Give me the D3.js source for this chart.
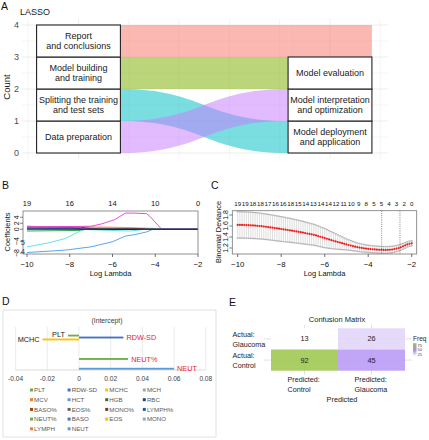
<!DOCTYPE html>
<html><head><meta charset="utf-8">
<script src="https://cdn.jsdelivr.net/npm/d3@7"></script>
<style>body{margin:0;background:#fff}svg{display:block}text{font-family:"Liberation Sans",Arial,sans-serif}</style>
</head><body><svg id="c" width="429" height="440"></svg>
<script>
// ================= DATA =================
// Panel A (alluvial)
const leftSteps = ["Data preparation", "Splitting the training\nand test sets", "Model building\nand training", "Report\nand conclusions"];
const rightSteps = ["Model deployment\nand application", "Model interpretation\nand optimization", "Model evaluation", ""];
const flowFrom = [3, 2, 1, 0];
const flowTo = [3, 2, 0, 1];
const flowCount = [1, 1, 1, 1];
const countTicks = [0, 1, 2, 3, 4];

// Panel B (coefficient paths)
const coefPathLambda = [
  [-10, -8, -7.5, -7, -6.5, -2],                        // navy
  [-10, -8, -7.4, -2],                                   // purple
  [-10, -7.5, -6, -4, -3.6, -2],                         // salmon
  [-10, -7, -5, -3.8, -2],                               // red
  [-10, -8, -6.8, -2],                                   // dark blue
  [-10, -7.5, -7.2, -2],                                 // green
  [-10, -9, -8.2, -7.6, -7.35, -6.5, -5.2, -4.4, -2],    // cyan
  [-10, -8.2, -7, -6, -5.4, -4.95, -4.4, -4.1, -2],      // blue
  [-10, -8, -7, -6.5, -5.9, -5.4, -5.0, -4.4, -4.25, -3.7, -2], // magenta
  [-10, -2]                                              // black
];
const coefPathValue = [
  [0.8, 0.75, 0.7, 0.2, 0, 0],
  [1.0, 0.6, 0, 0],
  [0.8, 0.9, 0.7, 0.3, 0, 0],
  [0.5, 0.4, 0.3, 0, 0],
  [0.3, 0.2, 0, 0],
  [-0.6, -0.4, 0, 0],
  [-5.9, -4.6, -3.1, -0.9, -0.1, -0.3, -0.6, 0, 0],
  [-7.8, -7.0, -5.9, -4.2, -2.3, -1.8, -0.9, 0, 0],
  [0.8, 0.9, 1.0, 1.8, 3.2, 5.4, 5.4, 5.2, 4.3, 0, 0],
  [0, 0]
];
const coefPathLabels = [null, null, null, null, null, null, "5", "4", null, null];
const coefYTicks = [-8, -4, 0, 2, 4];
const lambdaTicks = [-10, -8, -6, -4, -2];
const coefTopLambda = [-10, -8, -6, -4, -2];
const coefTopLabels = ["19", "16", "14", "10", "0"];

// Panel C (cross-validation)
const cvLambda = [-10.0,-9.9,-9.8,-9.7,-9.6,-9.5,-9.4,-9.3,-9.2,-9.1,-9.0,-8.9,-8.8,-8.7,-8.6,-8.5,-8.4,-8.3,-8.2,-8.1,
  -8.0,-7.9,-7.8,-7.7,-7.6,-7.5,-7.4,-7.3,-7.2,-7.1,-7.0,-6.9,-6.8,-6.7,-6.6,-6.5,-6.4,-6.3,-6.2,-6.1,
  -6.0,-5.9,-5.8,-5.7,-5.6,-5.5,-5.4,-5.3,-5.2,-5.1,-5.0,-4.9,-4.8,-4.7,-4.6,-4.5,-4.4,-4.3,-4.2,-4.1,
  -4.0,-3.9,-3.8,-3.7,-3.6,-3.5,-3.4,-3.3,-3.2,-3.1,-3.0,-2.9,-2.8,-2.7,-2.6,-2.5,-2.4,-2.3,-2.2,-2.1,-2.0];
const cvMean = [1.620,1.620,1.619,1.618,1.617,1.615,1.613,1.610,1.607,1.604,1.600,1.596,1.591,1.586,1.581,1.575,1.569,1.563,1.557,1.551,
  1.545,1.539,1.533,1.527,1.521,1.515,1.508,1.501,1.494,1.487,1.480,1.472,1.464,1.456,1.448,1.440,1.429,1.417,1.405,1.392,
  1.380,1.368,1.356,1.344,1.332,1.320,1.309,1.298,1.287,1.276,1.265,1.255,1.245,1.235,1.225,1.215,1.208,1.201,1.195,1.190,
  1.185,1.181,1.177,1.174,1.171,1.168,1.166,1.165,1.165,1.166,1.168,1.173,1.180,1.189,1.200,1.214,1.230,1.248,1.265,1.277,1.285];
const cvSE = [.240,.240,.239,.239,.238,.238,.237,.237,.236,.236,.235,.234,.233,.232,.231,.230,.229,.228,.227,.226,
  .225,.223,.221,.219,.217,.215,.213,.211,.209,.207,.205,.202,.199,.196,.193,.190,.187,.184,.181,.178,
  .175,.168,.161,.154,.147,.140,.132,.124,.116,.108,.100,.095,.090,.085,.080,.075,.073,.071,.069,.067,
  .065,.065,.064,.064,.063,.063,.062,.062,.061,.061,.060,.059,.058,.057,.056,.055,.053,.051,.049,.047,.045];
const cvTopLabels = ["19","19","18","18","17","16","16","18","15","14","13","14","14","12","11","10","9","8","5","5","4","3","2","0"];
const cvYTicks = [1.2, 1.4, 1.6, 1.8];
const cvLambdaMin = -3.38;
const cvLambda1se = -2.54;

// Panel D (coefficients bar chart)
const featureNames = ["PLT","RDW-SD","MCHC","MCH","MCV","HCT","HGB","RBC","BASO%","EOS%","MONO%","LYMPH%","NEUT%","BASO","EOS","MONO","LYMPH","NEUT"];
const featureCoef = [-0.007, 0.028, -0.023, 0, 0, 0, 0, 0, 0, 0, 0, 0, 0.031, 0, 0, 0, 0, 0.060];
const coefAxisTicks = [-0.04, -0.02, 0, 0.02, 0.04, 0.06, 0.08];
const coefAxisLabels = ["-0.04", "-0.02", "0", "0.02", "0.04", "0.06", "0.08"];
const coefCategory = "(Intercept)";

// Panel E (confusion matrix)
const cmPredicted = ["Control", "Control", "Glaucoma", "Glaucoma"];
const cmActual = ["Glaucoma", "Control", "Glaucoma", "Control"];
const cmFreq = [13, 92, 26, 45];
const cmPredLevels = ["Control", "Glaucoma"];
const cmActLevels = ["Glaucoma", "Control"];
const freqTicks = [25, 50, 75];

// ================= STYLES =================
const flowColors = ["#F8766D", "#7CAE00", "#00BFC4", "#C77CFF"];
const coefColors = ["#1a2a8a", "#8a3fd8", "#f2a090", "#e0202a", "#2450c8", "#1fa030", "#4fe0e6", "#4c98e6", "#e23ccf", "#000000"];
const coefLabelDy = [0, 0, 0, 0, 0, 0, -2, 1, 0, 0];
const featureColors = ["#70AD47","#4472C4","#FFC000","#A5A5A5","#ED7D31","#5B9BD5","#43682B","#264478","#9E480E","#636363","#843C0C","#255E91","#70AD47","#4472C4","#FFC000","#A5A5A5","#ED7D31","#5B9BD5"];

const svg = d3.select("#c");

function mtext(g, x, y, str, size, lh, anchor, fill) {
  const lines = str.split("\n");
  const t = g.append("text").attr("x", x).attr("y", y).attr("font-size", size)
    .attr("text-anchor", anchor || "middle").attr("fill", fill || "#1a1a1a");
  const off = -(lines.length - 1) * lh / 2;
  lines.forEach((l, i) => t.append("tspan").attr("x", x).attr("y", y + off + i * lh).attr("dy", "0.35em").text(l));
  return t;
}

// panel letters
[["A", 1, 10], ["B", 2, 189], ["C", 211, 189], ["D", 2, 305], ["E", 229, 306]].forEach(([s, x, y]) =>
  svg.append("text").attr("x", x).attr("y", y).attr("font-size", 10.5).attr("fill", "#111").text(s));

// ================= PANEL A =================
{
  const g = svg.append("g");
  const x = d3.scaleLinear().domain([0.8, 2.2]).range([28.2, 380.3]);
  const y = d3.scaleLinear().domain([0, 4]).range([153, 25]);
  const w = 1 / 3;
  g.append("text").attr("x", 20).attr("y", 15).attr("font-size", 9).attr("fill", "#1a1a1a").text("LASSO");
  d3.range(0, 4.01, 0.5).forEach(v => g.append("line").attr("x1", 22).attr("x2", 388)
    .attr("y1", y(v)).attr("y2", y(v)).attr("stroke", "#ebebeb").attr("stroke-width", v % 1 === 0 ? 0.9 : 0.5));
  x.ticks(7).forEach(v => g.append("line").attr("x1", x(v)).attr("x2", x(v)).attr("y1", 19).attr("y2", 159)
    .attr("stroke", "#ebebeb").attr("stroke-width", Math.abs(v - Math.round(v)) < 1e-6 ? 0.9 : 0.5));
  countTicks.forEach(v => g.append("text").attr("x", 19).attr("y", y(v)).attr("dy", "0.35em")
    .attr("text-anchor", "end").attr("font-size", 9).attr("fill", "#4d4d4d").text(v));
  g.append("text").attr("transform", `translate(10,${y(2) - 2}) rotate(-90)`).attr("text-anchor", "middle")
    .attr("font-size", 9.5).attr("fill", "#1a1a1a").text("Count");
  const x0 = x(1 + w / 2), x1 = x(2 - w / 2), xm = (x0 + x1) / 2;
  flowFrom.forEach((f, i) => {
    const t = flowTo[i], c = flowCount[i];
    const yT0 = y(f + c), yB0 = y(f), yT1 = y(t + c), yB1 = y(t);
    const p = d3.path();
    p.moveTo(x0, yT0);
    p.bezierCurveTo(xm, yT0, xm, yT1, x1, yT1);
    p.lineTo(x1, yB1);
    p.bezierCurveTo(xm, yB1, xm, yB0, x0, yB0);
    p.closePath();
    g.append("path").attr("d", p.toString()).attr("fill", flowColors[i]).attr("fill-opacity", 0.52);
    if (!rightSteps[t]) {
      g.append("rect").attr("x", x1).attr("y", yT1).attr("width", x(2 + w / 2) - x1).attr("height", yB1 - yT1)
        .attr("fill", flowColors[i]).attr("fill-opacity", 0.52);
    }
  });
  const drawBoxes = (steps, pos) => steps.forEach((s, i) => {
    if (!s) return;
    g.append("rect").attr("x", x(pos - w / 2)).attr("y", y(i + 1)).attr("width", x(pos + w / 2) - x(pos - w / 2))
      .attr("height", y(i) - y(i + 1)).attr("fill", "#fff").attr("stroke", "#222").attr("stroke-width", 1.1);
    mtext(g, x(pos), (y(i) + y(i + 1)) / 2, s, 9, 10.6, "middle", "#1a1a1a");
  });
  drawBoxes(leftSteps, 1);
  drawBoxes(rightSteps, 2);
}

// ================= PANEL B =================
{
  const g = svg.append("g");
  const x = d3.scaleLinear().domain([-10, -2]).range([27, 198]);
  const y = d3.scaleLinear().domain([-8.3, 6.1]).range([254, 211]);
  const L = 23, R = 198, T = 211, B = 254;
  const line = d3.line().x(d => x(d[0])).y(d => y(d[1]));
  coefPathLambda.forEach((lam, i) => {
    const pts = lam.map((l, j) => [l, coefPathValue[i][j]]);
    g.append("path").attr("d", line(pts)).attr("fill", "none").attr("stroke", coefColors[i]).attr("stroke-width", 0.9);
    if (coefPathLabels[i]) g.append("text").attr("x", x(-10) - 4).attr("y", y(pts[0][1]) + coefLabelDy[i])
      .attr("text-anchor", "middle").attr("font-size", 6.8).attr("fill", "#111").text(coefPathLabels[i]);
  });
  g.append("rect").attr("x", L).attr("y", T).attr("width", R - L).attr("height", B - T)
    .attr("fill", "none").attr("stroke", "#777").attr("stroke-width", 0.8);
  lambdaTicks.forEach(v => {
    g.append("line").attr("x1", x(v)).attr("x2", x(v)).attr("y1", B).attr("y2", B + 3).attr("stroke", "#333").attr("stroke-width", 0.7);
    g.append("text").attr("x", x(v)).attr("y", 267).attr("text-anchor", "middle").attr("font-size", 7.8).attr("fill", "#111").text("\u2212" + Math.abs(v));
  });
  coefTopLambda.forEach((v, i) => g.append("text").attr("x", x(v)).attr("y", 206).attr("text-anchor", "middle")
    .attr("font-size", 7.5).attr("fill", "#111").text(coefTopLabels[i]));
  coefYTicks.forEach(v => {
    g.append("line").attr("x1", L).attr("x2", L - 3).attr("y1", y(v)).attr("y2", y(v)).attr("stroke", "#333").attr("stroke-width", 0.6);
    g.append("text").attr("transform", `translate(18.5,${y(v)}) rotate(-90)`).attr("text-anchor", "middle")
      .attr("font-size", 7).attr("fill", "#111").text(v < 0 ? "\u2212" + Math.abs(v) : v);
  });
  g.append("text").attr("x", (L + R) / 2).attr("y", 276).attr("text-anchor", "middle").attr("font-size", 7.5).attr("fill", "#111").text("Log Lambda");
  g.append("text").attr("transform", `translate(10,232) rotate(-90)`).attr("text-anchor", "middle").attr("font-size", 7.5).attr("fill", "#111").text("Coefficients");
}

// ================= PANEL C =================
{
  const g = svg.append("g");
  const x = d3.scaleLinear().domain([-10, -2]).range([237.7, 411.7]);
  const y = d3.scaleLinear().domain([1.2, 1.8]).range([248, 215]);
  const L = 232.3, R = 416.7, T = 210.7, B = 254;
  cvLambda.forEach((l, i) => {
    g.append("line").attr("x1", x(l)).attr("x2", x(l)).attr("y1", y(cvMean[i] - cvSE[i])).attr("y2", y(cvMean[i] + cvSE[i]))
      .attr("stroke", "#c8c8c8").attr("stroke-width", 0.6);
    [cvMean[i] - cvSE[i], cvMean[i] + cvSE[i]].forEach(v => g.append("line").attr("x1", x(l) - 1.1).attr("x2", x(l) + 1.1)
      .attr("y1", y(v)).attr("y2", y(v)).attr("stroke", "#b4b4b4").attr("stroke-width", 1.3));
  });
  [cvLambdaMin, cvLambda1se].forEach(v => g.append("line").attr("x1", x(v)).attr("x2", x(v)).attr("y1", T).attr("y2", B)
    .attr("stroke", "#555").attr("stroke-width", 0.7).attr("stroke-dasharray", "1,1.2"));
  cvLambda.forEach((l, i) => g.append("circle").attr("cx", x(l)).attr("cy", y(cvMean[i])).attr("r", 1.1).attr("fill", "#ee1c1c"));
  g.append("rect").attr("x", L).attr("y", T).attr("width", R - L).attr("height", B - T)
    .attr("fill", "none").attr("stroke", "#777").attr("stroke-width", 0.8);
  lambdaTicks.forEach(v => {
    g.append("line").attr("x1", x(v)).attr("x2", x(v)).attr("y1", B).attr("y2", B + 3).attr("stroke", "#333").attr("stroke-width", 0.7);
    g.append("text").attr("x", x(v)).attr("y", 267).attr("text-anchor", "middle").attr("font-size", 7.8).attr("fill", "#111").text("\u2212" + Math.abs(v));
  });
  const tp = d3.scaleLinear().domain([0, cvTopLabels.length - 1]).range([x(-10), x(-2)]);
  cvTopLabels.forEach((s, i) => g.append("text").attr("x", tp(i)).attr("y", 206).attr("text-anchor", "middle")
    .attr("font-size", 6.2).attr("fill", "#111").text(s));
  cvYTicks.forEach(v => {
    g.append("line").attr("x1", L).attr("x2", L - 3).attr("y1", y(v)).attr("y2", y(v)).attr("stroke", "#333").attr("stroke-width", 0.6);
    g.append("text").attr("transform", `translate(228,${y(v)}) rotate(-90)`).attr("text-anchor", "middle")
      .attr("font-size", 7).attr("fill", "#111").text(v.toFixed(1));
  });
  g.append("text").attr("x", (L + R) / 2).attr("y", 276).attr("text-anchor", "middle").attr("font-size", 7.5).attr("fill", "#111").text("Log Lambda");
  g.append("text").attr("transform", `translate(220.5,232) rotate(-90)`).attr("text-anchor", "middle").attr("font-size", 7.5).attr("fill", "#111").text("Binomial Deviance");
}

// ================= PANEL D =================
{
  const g = svg.append("g");
  g.append("rect").attr("x", 3).attr("y", 310).attr("width", 213).attr("height", 127).attr("fill", "none").attr("stroke", "#d9d9d9").attr("stroke-width", 0.8);
  const x = d3.scaleLinear().domain([-0.04, 0.08]).range([15.6, 205.8]);
  const y = d3.scaleBand().domain(featureNames).range([334.6, 369.7]).padding(0);
  coefAxisTicks.forEach(v => g.append("line").attr("x1", x(v)).attr("x2", x(v)).attr("y1", 327).attr("y2", 370)
    .attr("stroke", "#e3e3e3").attr("stroke-width", 0.7));
  g.append("line").attr("x1", x(-0.04)).attr("x2", x(0.08)).attr("y1", 370).attr("y2", 370).attr("stroke", "#d0d0d0").attr("stroke-width", 0.8);
  g.append("text").attr("x", 107).attr("y", 323).attr("text-anchor", "middle").attr("font-size", 6.8).attr("fill", "#404040").text(coefCategory);
  featureNames.forEach((n, i) => {
    const v = featureCoef[i];
    if (v === 0) return;
    g.append("rect").attr("x", Math.min(x(0), x(v))).attr("y", y(n) + 0.05).attr("width", Math.abs(x(v) - x(0)))
      .attr("height", y.bandwidth() - 0.1).attr("fill", featureColors[i]);
    const pos = v > 0;
    g.append("text").attr("x", pos ? x(v) + 3 : x(v) - 3).attr("y", y(n) + y.bandwidth() / 2 + (n === "PLT" ? -1.5 : 0))
      .attr("dy", "0.35em").attr("text-anchor", pos ? "start" : "end").attr("font-size", 7.3)
      .attr("fill", pos ? "#e8203c" : "#1a1a1a").text(n);
  });
  coefAxisTicks.forEach((v, i) => g.append("text").attr("x", x(v)).attr("y", 380.5).attr("text-anchor", "middle")
    .attr("font-size", 6.6).attr("fill", "#404040").text(coefAxisLabels[i]));
  featureNames.forEach((n, i) => {
    const col = i % 4, row = Math.floor(i / 4);
    const lx = 31.5 + col * 37.6, ly = 390 + row * 9.7;
    g.append("rect").attr("x", lx - 1.5).attr("y", ly - 1.5).attr("width", 3).attr("height", 3).attr("fill", featureColors[i]);
    g.append("text").attr("x", lx + 2.6).attr("y", ly).attr("dy", "0.35em").attr("font-size", 6.2).attr("fill", "#595959").text(n);
  });
}

// ================= PANEL E =================
{
  const g = svg.append("g");
  const x = d3.scaleBand().domain(cmPredLevels).range([271, 405]);
  const y = d3.scaleBand().domain(cmActLevels).range([328.3, 370.7]);
  const col = d3.scaleLinear().domain([13, 50, 92]).range(["#ffffff", "#ad88f5", "#9ec64e"]);
  g.append("text").attr("x", 337).attr("y", 322).attr("text-anchor", "middle").attr("font-size", 7.5).attr("fill", "#1a1a1a").text("Confusion Matrix");
  cmPredLevels.forEach(p => g.append("line").attr("x1", x(p) + x.bandwidth() / 2).attr("x2", x(p) + x.bandwidth() / 2)
    .attr("y1", 325).attr("y2", 375).attr("stroke", "#cfcfcf").attr("stroke-width", 0.6));
  cmActLevels.forEach(a => g.append("line").attr("y1", y(a) + y.bandwidth() / 2).attr("y2", y(a) + y.bandwidth() / 2)
    .attr("x1", 264).attr("x2", 412).attr("stroke", "#cfcfcf").attr("stroke-width", 0.6));
  cmFreq.forEach((f, i) => {
    g.append("rect").attr("x", x(cmPredicted[i])).attr("y", y(cmActual[i])).attr("width", x.bandwidth()).attr("height", y.bandwidth())
      .attr("fill", col(f)).attr("fill-opacity", 0.88);
    g.append("text").attr("x", x(cmPredicted[i]) + x.bandwidth() / 2).attr("y", y(cmActual[i]) + y.bandwidth() / 2)
      .attr("dy", "0.35em").attr("text-anchor", "middle").attr("font-size", 7.3).attr("fill", "#222").text(f);
  });
  cmActLevels.forEach(a => mtext(g, 232.5, y(a) + y.bandwidth() / 2 + 0.5, "Actual:\n" + a, 7.2, 9.6, "start", "#222"));
  cmPredLevels.forEach(p => mtext(g, x(p) + x.bandwidth() / 2 - 17, 384.5, "Predicted:\n" + p, 7.2, 9.4, "start", "#222"));
  g.append("text").attr("x", 342).attr("y", 402).attr("text-anchor", "middle").attr("font-size", 7.3).attr("fill", "#222").text("Predicted");
  // legend
  const ly = d3.scaleLinear().domain([13, 92]).range([356.2, 343.2]);
  const defs = svg.append("defs");
  const grad = defs.append("linearGradient").attr("id", "fg").attr("x1", 0).attr("x2", 0).attr("y1", 1).attr("y2", 0);
  [13, 30, 50, 70, 92].forEach(v => grad.append("stop").attr("offset", (v - 13) / 79).attr("stop-color", col(v)));
  g.append("text").attr("x", 413).attr("y", 341).attr("font-size", 6.5).attr("fill", "#222").text("Freq");
  g.append("rect").attr("x", 413).attr("y", ly(92)).attr("width", 3.5).attr("height", ly(13) - ly(92)).attr("fill", "url(#fg)");
  freqTicks.forEach(v => g.append("text").attr("x", 417.5).attr("y", ly(v)).attr("dy", "0.35em").attr("font-size", 3.9).attr("fill", "#333").text(v));
}
</script></body></html>
